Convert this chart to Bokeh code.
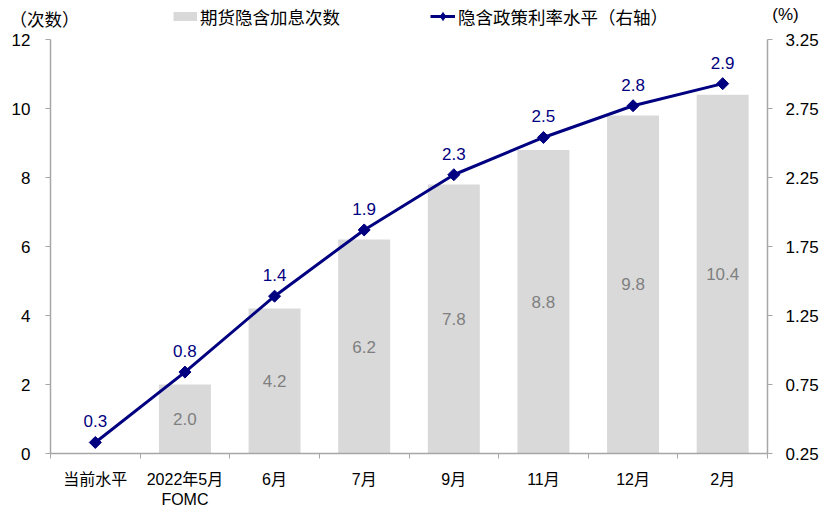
import numpy as np
from bokeh.plotting import figure
from bokeh.layouts import column
from bokeh.models import (Range1d, LinearAxis, FixedTicker, CustomJSTickFormatter,
                          PrintfTickFormatter, Legend, LegendItem, Label, ColumnDataSource)
from bokeh.core.properties import value
from bokeh.embed import file_html
from bokeh.resources import INLINE

# ---- data ----
categories = ["当前水平", "2022年5月\nFOMC", "6月", "7月", "9月", "11月", "12月", "2月"]
hike_counts = [None, 2.0, 4.2, 6.2, 7.8, 8.8, 9.8, 10.4]       # 期货隐含加息次数 (left axis)
policy_rate = [0.33, 0.84, 1.39, 1.87, 2.27, 2.54, 2.77, 2.93]  # 隐含政策利率水平 (right axis, %)
left_ticks = [0, 2, 4, 6, 8, 10, 12]
right_ticks = [0.25, 0.75, 1.25, 1.75, 2.25, 2.75, 3.25]

FONT = "Liberation Sans, Noto Sans CJK SC"
NAVY = "#000080"
BAR = "#d9d9d9"
AXIS = "#a6a6a6"

W = 836
HEAD_H = 28
MAIN_H = 482

n = len(categories)
xc = np.arange(n) + 0.5

bar_idx = [i for i, v in enumerate(hike_counts) if v is not None]
bar_src = ColumnDataSource(dict(
    x=[xc[i] for i in bar_idx],
    top=[hike_counts[i] for i in bar_idx],
    mid=[hike_counts[i] / 2 for i in bar_idx],
    lab=["%.1f" % hike_counts[i] for i in bar_idx],
))
line_src = ColumnDataSource(dict(
    x=xc, y=policy_rate, lab=["%.1f" % v for v in policy_rate],
))

# ---------------- main chart ----------------
p = figure(width=W, height=MAIN_H, output_backend="svg", toolbar_location=None,
           x_range=Range1d(0, n), y_range=Range1d(left_ticks[0], left_ticks[-1]),
           min_border_left=50, min_border_right=W - 767, min_border_top=11,
           min_border_bottom=54)
p.frame_align = False
p.extra_y_ranges = {"right": Range1d(right_ticks[0], right_ticks[-1])}
p.grid.visible = False
p.outline_line_color = None

p.vbar(x="x", top="top", width=0.58, source=bar_src, fill_color=BAR, line_color=None)
p.text(x="x", y="mid", text="lab", source=bar_src, text_align="center", text_baseline="middle",
       text_color="#7f7f7f", text_font_size="17px", text_font=value(FONT))

p.line(x="x", y="y", source=line_src, y_range_name="right", line_color=NAVY, line_width=3)
p.scatter(x="x", y="y", source=line_src, y_range_name="right", marker="square",
          angle=np.pi / 4, size=8.5, fill_color=NAVY, line_color=NAVY)
p.text(x="x", y="y", text="lab", source=line_src, y_range_name="right", text_align="center",
       text_baseline="middle", y_offset=-21, text_color=NAVY, text_font_size="17px",
       text_font=value(FONT))

xa = p.xaxis[0]
xa.ticker = FixedTicker(ticks=list(xc), minor_ticks=list(range(n + 1)))
xa.formatter = CustomJSTickFormatter(args=dict(labels=categories),
                                     code="return labels[Math.floor(tick)];")
xa.major_tick_line_color = None
xa.major_tick_out = 0
xa.major_tick_in = 0
xa.minor_tick_line_color = AXIS
xa.minor_tick_out = 5
xa.minor_tick_in = 0
xa.axis_line_color = AXIS
xa.axis_line_width = 1.5
xa.major_label_standoff = 12
xa.major_label_text_font_size = "16px"
xa.major_label_text_font = FONT
xa.major_label_text_color = "black"

ya = p.yaxis[0]
ya.ticker = FixedTicker(ticks=left_ticks)
ya.minor_tick_line_color = None
ya.major_tick_line_color = AXIS
ya.major_tick_out = 5
ya.major_tick_in = 0
ya.axis_line_color = AXIS
ya.axis_line_width = 1.5
ya.major_label_standoff = 15
ya.major_label_text_font_size = "17px"
ya.major_label_text_font = FONT
ya.major_label_text_color = "black"

ra = LinearAxis(y_range_name="right", ticker=FixedTicker(ticks=right_ticks),
                formatter=PrintfTickFormatter(format="%.2f"))
ra.minor_tick_line_color = None
ra.major_tick_line_color = AXIS
ra.major_tick_out = 5
ra.major_tick_in = 0
ra.axis_line_color = AXIS
ra.axis_line_width = 1.5
ra.major_label_standoff = 13
ra.major_label_text_font_size = "17px"
ra.major_label_text_font = FONT
ra.major_label_text_color = "black"
p.add_layout(ra, "right")

# ---------------- header (legend + unit labels) ----------------
h = figure(width=W, height=HEAD_H, output_backend="svg", toolbar_location=None,
           x_range=Range1d(0, W), y_range=Range1d(0, HEAD_H),
           x_axis_type=None, y_axis_type=None, min_border=0,
           min_border_left=0, min_border_right=0, min_border_top=0, min_border_bottom=0)
h.frame_align = False
h.grid.visible = False
h.outline_line_color = None

# legend-only renderers (no visible data)
swatch = h.line(x=[np.nan], y=[np.nan], line_color=BAR, line_width=9)
hl = h.line(x=[np.nan], y=[np.nan], line_color=NAVY, line_width=3)
hm = h.scatter(x=[np.nan], y=[np.nan], marker="diamond", size=9,
               fill_color=NAVY, line_color=NAVY)

row_h = 20
common = dict(padding=0, margin=0, border_line_color=None, background_fill_alpha=0,
              label_text_font_size="17.5px", label_text_font=FONT, label_text_color="black",
              label_height=row_h, glyph_height=row_h, label_standoff=3, spacing=0)
leg_y = HEAD_H - 18.5 - row_h / 2
leg1 = Legend(items=[LegendItem(label="期货隐含加息次数", renderers=[swatch])],
              location=(173, leg_y), glyph_width=24, **common)
leg2 = Legend(items=[LegendItem(label="隐含政策利率水平（右轴）", renderers=[hl, hm])],
              location=(430, leg_y), glyph_width=25, **common)
h.add_layout(leg1, "center")
h.add_layout(leg2, "center")

h.add_layout(Label(x=44, y=HEAD_H - 19, text="（次数）", text_align="center",
                   text_baseline="middle", text_font_size="17.5px", text_font=FONT,
                   text_color="black"))
h.add_layout(Label(x=785, y=HEAD_H - 14.3, text="(%)", text_align="center",
                   text_baseline="middle", text_font_size="17px", text_font=FONT,
                   text_color="black"))

layout = column(h, p, spacing=0)
open("out.html", "w").write(file_html(layout, INLINE))
